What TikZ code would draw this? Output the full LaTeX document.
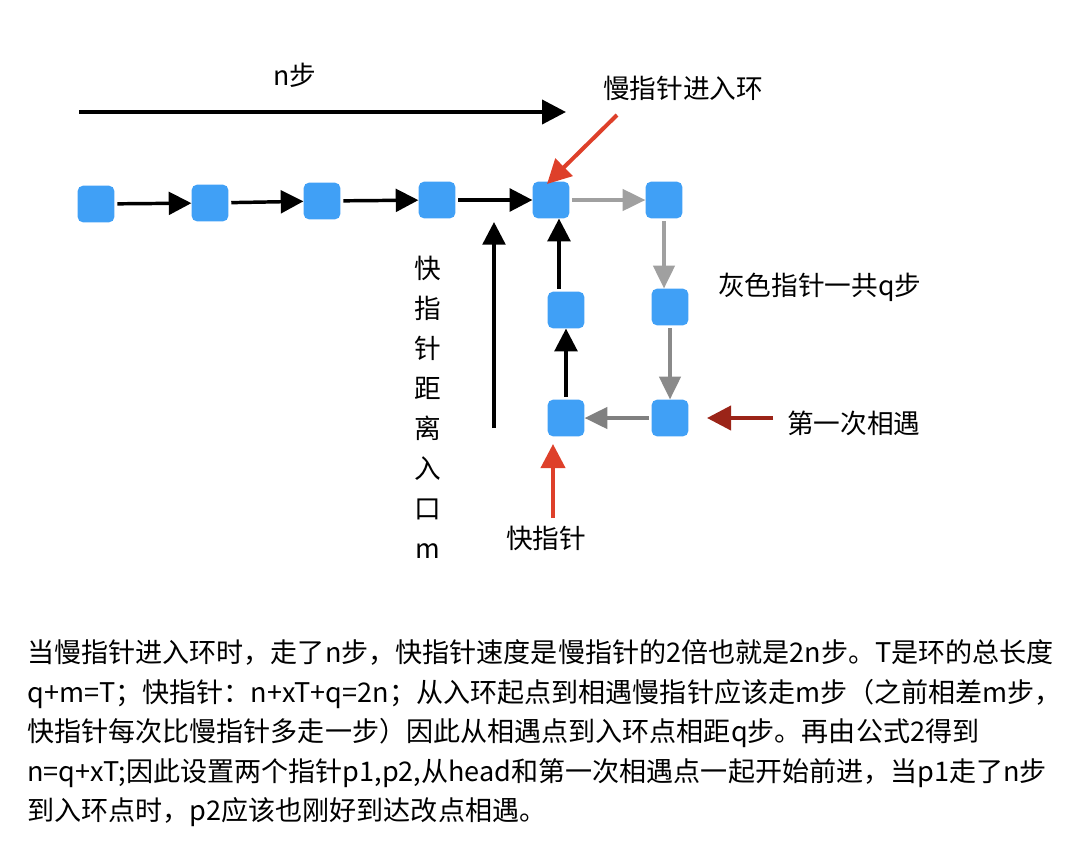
\documentclass[tikz,border=0pt]{standalone}
\usepackage{fontspec}
\setmainfont{Noto Sans CJK SC}
\usetikzlibrary{arrows.meta,calc}
\definecolor{boxblue}{RGB}{64,160,246}
\definecolor{lgray}{RGB}{160,160,160}
\definecolor{mgray}{RGB}{138,138,138}
\definecolor{dgray}{RGB}{128,128,128}
\definecolor{redarr}{RGB}{222,64,42}
\definecolor{darkred}{RGB}{155,36,24}
\tikzset{
  nodebox/.style={fill=boxblue,rounded corners=4pt,minimum size=27.5pt,inner sep=0pt,draw=none},
  lbl/.style={font=\fontsize{20}{24}\selectfont,inner sep=0pt},
  para/.style={font=\fontsize{20.3}{24}\selectfont,inner sep=0pt,anchor=base west},
  blk/.style={line width=2.6pt,-{Triangle[length=17pt,width=17pt]}},
  gry/.style={line width=2.3pt,-{Triangle[length=17pt,width=16pt]}},
  redar/.style={line width=3pt,redarr,-{Triangle[length=18pt,width=18pt]}},
}
\begin{document}
\begin{tikzpicture}[x=0.75pt,y=-0.75pt]
\useasboundingbox (0,0) rectangle (1078,840);
% boxes
\node[nodebox] (b1) at (96,204) {};
\node[nodebox] (b2) at (210,203) {};
\node[nodebox] (b3) at (322,201) {};
\node[nodebox] (b4) at (437,200) {};
\node[nodebox] (b5) at (551,200) {};
\node[nodebox] (b6) at (664,200) {};
\node[nodebox] (b7) at (670,307) {};
\node[nodebox] (b8) at (670,418) {};
\node[nodebox] (b9) at (566,418) {};
\node[nodebox] (b10) at (566,310) {};
% top arrow
\coordinate (t0) at (79,112);
\coordinate (t1) at (566,112);
\draw[blk,line width=3pt,-{Triangle[length=18pt,width=18pt]}] (t0) -- (t1);
\node[lbl] (nstep) at (295,75) {n步};
% chain
\draw[blk,shorten <=2pt] (b1) -- (b2);
\draw[blk,shorten <=2pt] (b2) -- (b3);
\draw[blk,shorten <=2pt] (b3) -- (b4);
\draw[blk,shorten <=2pt] (b4) -- (b5);
% ring
\draw[gry,lgray,shorten <=2pt] (b5) -- (b6);
\draw[gry,lgray,shorten <=2pt] (b6.south) -- (b6.south |- b7.north);
\draw[gry,mgray,shorten <=2pt] (b7) -- (b8);
\draw[gry,dgray,shorten <=2pt] (b8) -- (b9);
\draw[blk,shorten <=2pt] (b9) -- (b10);
\coordinate (cx) at (559,0);
\draw[blk,shorten <=2pt] (b10.north -| cx) -- (b5.south -| cx);
% fast pointer distance arrow
\coordinate (m0) at (494,428);
\coordinate (m1) at (494,222);
\draw[blk] (m0) -- (m1);
\node[lbl,align=center,anchor=north,font=\fontsize{20}{30}\selectfont] (vt) at (428,256) {快\\指\\针\\距\\离\\入\\口\\m};
% slow pointer label
\node[lbl] (slow) at (683,88) {慢指针进入环};
\coordinate (s0) at (617,115);
\coordinate (s1) at (547,184);
\draw[redar] (s0) -- (s1);
% fast pointer
\coordinate (f0) at (553,518);
\coordinate (f1) at (553,444);
\draw[redar] (f0) -- (f1);
\node[lbl] (fast) at (546,538) {快指针};
% gray label
\node[lbl,anchor=west] (grayl) at (718,287) {灰色指针一共q步};
% meet
\node[lbl,anchor=west] (meet) at (787,423) {第一次相遇};
\coordinate (d0) at (773,418);
\coordinate (d1) at (707,418);
\draw[line width=3pt,darkred,-{Triangle[length=18pt,width=18pt]}] (d0) -- (d1);
% bottom text
\node[para] (l1) at (27,662) {当慢指针进入环时，走了n步，快指针速度是慢指针的2倍也就是2n步。T是环的总长度};
\node[para] (l2) at (27,702) {q+m=T；快指针：n+xT+q=2n；从入环起点到相遇慢指针应该走m步（之前相差m步，};
\node[para] (l3) at (27,741) {快指针每次比慢指针多走一步）因此从相遇点到入环点相距q步。再由公式2得到};
\node[para] (l4) at (27,781) {n=q+xT;因此设置两个指针p1,p2,从head和第一次相遇点一起开始前进，当p1走了n步};
\node[para] (l5) at (27,820) {到入环点时，p2应该也刚好到达改点相遇。};
\end{tikzpicture}
\end{document}
